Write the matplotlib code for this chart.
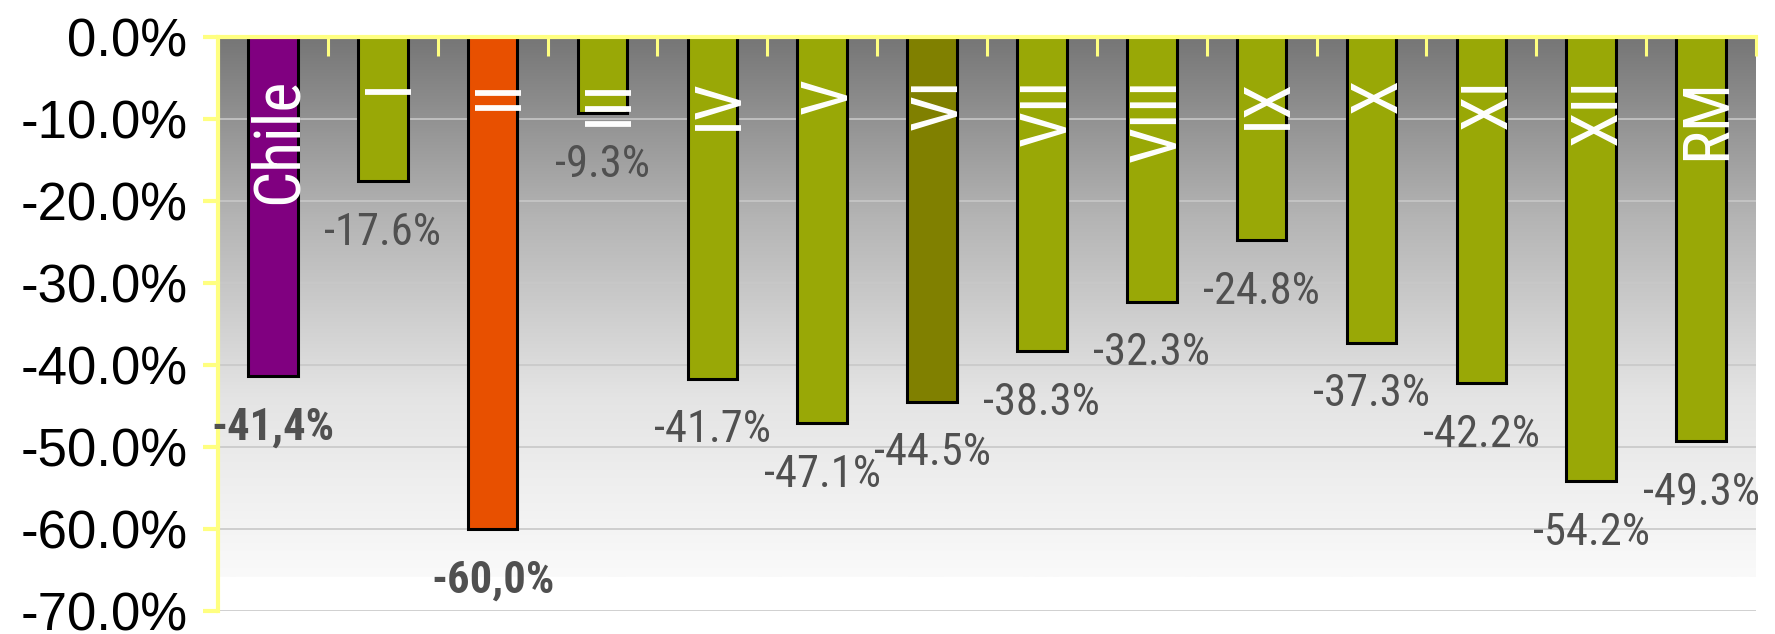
import numpy as np
import matplotlib
matplotlib.use("Agg")
import matplotlib.pyplot as plt
from matplotlib.colors import LinearSegmentedColormap

# data
regions = ["Chile", "I", "II", "III", "IV", "V", "VI", "VII", "VIII", "IX", "X", "XI", "XII", "RM"]
values = [-41.4, -17.6, -60.0, -9.3, -41.7, -47.1, -44.5, -38.3, -32.3, -24.8, -37.3, -42.2, -54.2, -49.3]
labels = ["-41,4%", "-17.6%", "-60,0%", "-9.3%", "-41.7%", "-47.1%", "-44.5%", "-38.3%",
          "-32.3%", "-24.8%", "-37.3%", "-42.2%", "-54.2%", "-49.3%"]
bold_labels = ["Chile", "II"]
yticks = [0, -10, -20, -30, -40, -50, -60, -70]

olive = "#99A806"
bar_colors = [olive] * len(regions)
bar_colors[0] = "#800080"
bar_colors[2] = "#E85000"
bar_colors[6] = "#808000"

narrow = ["Liberation Sans Narrow", "Roboto Condensed", "Roboto", "DejaVu Sans"]
yellow = "#FFFF80"

fig = plt.figure(figsize=(17.75, 6.34), dpi=100)
ax = fig.add_axes([218 / 1775, 1 - 611 / 634, (1756 - 218) / 1775, (611 - 37) / 634])

x = np.arange(len(regions))
ax.set_xlim(-0.5, len(regions) - 0.5)
ax.set_ylim(-70, 0)

# plot area gradient, dark grey at the top to white
cmap = LinearSegmentedColormap.from_list("bg", ["#767676", "#b4b4b4", "#e4e4e4", "#fafafa"])
grad = np.linspace(0, 1, 256).reshape(-1, 1)
ax.imshow(grad, cmap=cmap, aspect="auto", extent=[-0.5, len(regions) - 0.5, -65.8, 0],
          origin="upper", zorder=0, interpolation="bilinear")

for t in yticks[1:]:
    ax.axhline(t, color="#c8c8c8", lw=1.2, zorder=1)

ax.bar(x, values, width=0.45, color=bar_colors, edgecolor="black", linewidth=2.2, zorder=2)

for i, (name, v, lab) in enumerate(zip(regions, values, labels)):
    ax.text(i + 0.22, -5.0, name, rotation=90, rotation_mode="anchor", ha="right", va="baseline",
            color="white", fontsize=46, family=narrow, zorder=3)
    ax.annotate(lab, (i, v), xytext=(0, -22), textcoords="offset points", ha="center", va="top",
                fontsize=32, color="#505050", family=narrow,
                fontweight="bold" if name in bold_labels else "normal", zorder=3)

ax.set_yticks(yticks)
ax.set_yticklabels([f"{t:.1f}%" for t in yticks], fontsize=38, family=["Liberation Sans", "DejaVu Sans"])
ax.tick_params(axis="y", direction="out", length=11, width=3, color=yellow, pad=11)

ax.xaxis.set_ticks_position("top")
ax.set_xticks([])
ax.set_xticks(np.arange(0.5, len(regions), 1.0), minor=True)
ax.tick_params(axis="x", which="minor", direction="in", length=14, width=2.2, color=yellow)

for side in ["right", "bottom"]:
    ax.spines[side].set_visible(False)
ax.spines["top"].set_color(yellow)
ax.spines["top"].set_linewidth(3)
ax.spines["left"].set_color(yellow)
ax.spines["left"].set_linewidth(3)
ax.spines["top"].set_zorder(4)

fig.savefig("out.png", dpi=100)
